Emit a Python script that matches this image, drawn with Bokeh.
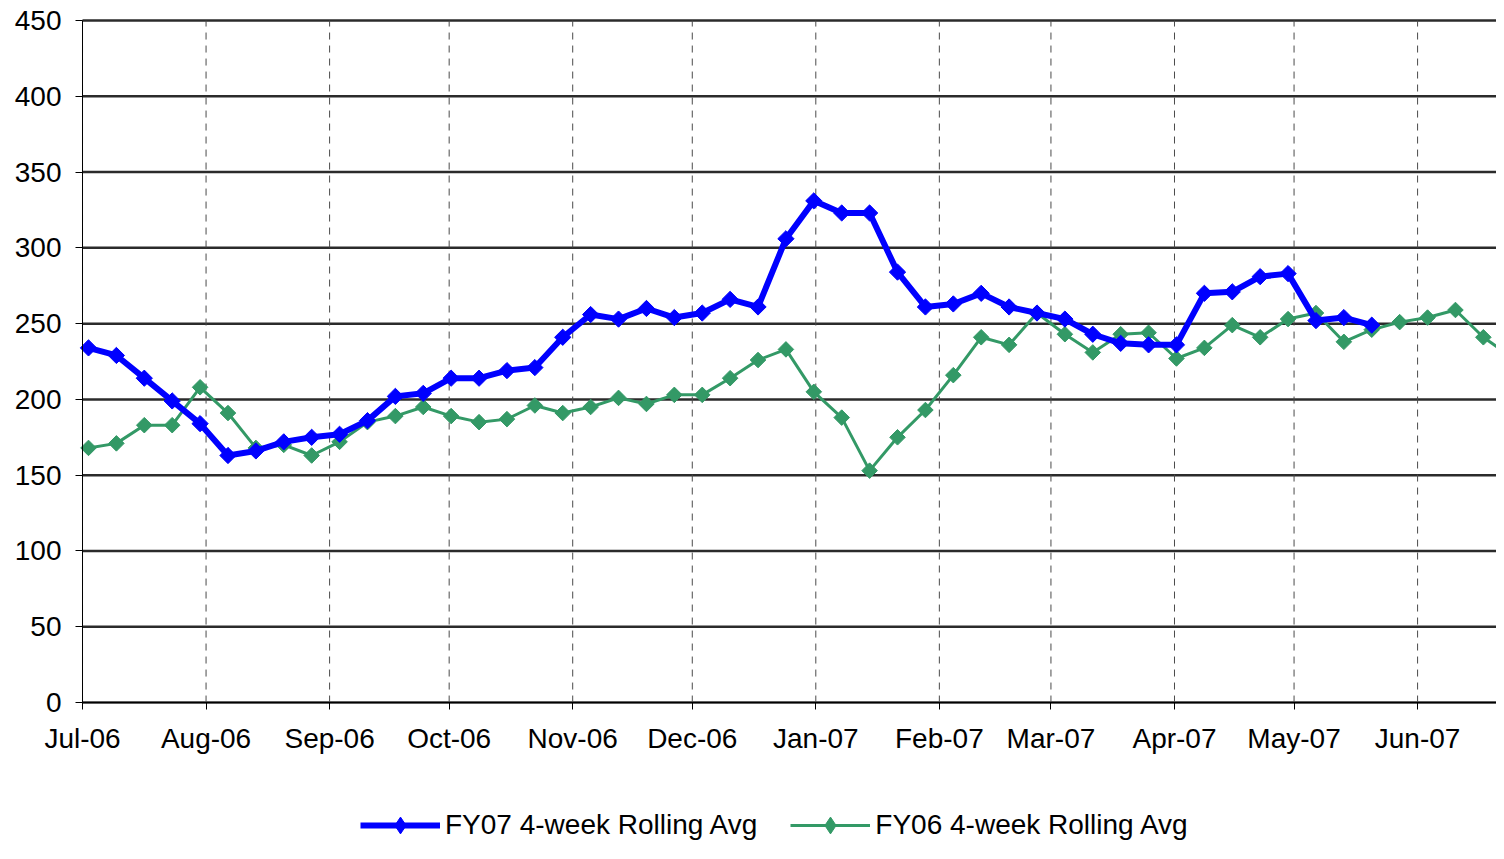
import numpy as np
import pandas as pd
from bokeh.plotting import figure
from bokeh.models import (Range1d, FixedTicker, Legend, LegendItem, ColumnDataSource)
from bokeh.embed import file_html
from bokeh.resources import INLINE

# ---- data ----
fy07 = [234, 229, 214, 199, 184, 163, 166, 172, 175, 177,
        186, 202, 204, 214, 214, 219, 221, 241, 256, 253,
        260, 254, 257, 266, 261, 306, 331, 323, 323, 284,
        261, 263, 270, 261, 257, 253, 243, 237, 236, 236,
        270, 271, 281, 283, 252, 254, 249]
fy06 = [168, 171, 183, 183, 208, 191, 168, 170, 163, 172,
        185, 189, 195, 189, 185, 187, 196, 191, 195, 201,
        197, 203, 203, 214, 226, 233, 205, 188, 153, 175,
        193, 216, 241, 236, 257, 243, 231, 243, 244, 227,
        234, 249, 241, 253, 257, 238, 246, 251, 254, 259,
        241, 228]
first_week = "2006-07-02 12:00"
month_starts = pd.date_range("2006-07-01", periods=12, freq="MS")
month_labels = ["Jul-06", "Aug-06", "Sep-06", "Oct-06", "Nov-06", "Dec-06",
                "Jan-07", "Feb-07", "Mar-07", "Apr-07", "May-07", "Jun-07"]
y_ticks = [0, 50, 100, 150, 200, 250, 300, 350, 400, 450]
series_names = ["FY07 4-week Rolling Avg", "FY06 4-week Rolling Avg"]

dates07 = pd.date_range(first_week, periods=len(fy07), freq="7D")
dates06 = pd.date_range(first_week, periods=len(fy06), freq="7D")

axis_start = pd.Timestamp("2006-07-01")
axis_end = axis_start + pd.Timedelta(days=354.8)
view_start = axis_start - pd.Timedelta(days=20.58)   # room for y labels

FONT = "Liberation Sans"
BLUE = "#0000FF"
GREEN = "#339966"

# The frame fills the whole figure; axes are pinned inside it so that
# the legend (drawn in the frame) can sit at the very bottom.
p = figure(width=1496, height=843, x_axis_type="datetime",
           x_range=Range1d(view_start, axis_end), y_range=Range1d(-93, 463.2),
           output_backend="svg", toolbar_location=None,
           min_border_left=0, min_border_right=0, min_border_top=0,
           min_border_bottom=0)
p.outline_line_color = None
p.background_fill_color = "white"

tick_ms = [float(t.value // 10**6) for t in month_starts]
p.xaxis.ticker = FixedTicker(ticks=tick_ms)
p.xaxis.major_label_overrides = {t: lab for t, lab in zip(tick_ms, month_labels)}
p.xaxis.fixed_location = y_ticks[0]
p.xaxis.bounds = (axis_start, axis_end)
p.yaxis.ticker = FixedTicker(ticks=y_ticks)
p.yaxis.fixed_location = float(axis_start.value // 10**6)
p.yaxis.bounds = (y_ticks[0], y_ticks[-1])

for ax in (p.xaxis[0], p.yaxis[0]):
    ax.axis_line_color = "black"
    ax.axis_line_width = 1
    ax.major_tick_line_color = "black"
    ax.major_tick_in = 0
    ax.major_tick_out = 7
    ax.minor_tick_line_color = None
    ax.major_label_text_font = FONT
    ax.major_label_text_font_size = "28px"
    ax.major_label_text_color = "black"
p.yaxis.major_label_standoff = 14
p.xaxis.major_label_standoff = 13

p.xgrid.grid_line_color = None
p.ygrid.grid_line_color = None

# horizontal gridlines at the value ticks
p.segment(x0=axis_start, y0=y_ticks, x1=axis_end, y1=y_ticks,
          line_color="#2b2b2b", line_width=2.5)
# vertical dashed month gridlines over the value range
p.segment(x0=month_starts, y0=y_ticks[0], x1=month_starts, y1=y_ticks[-1],
          line_color="#4a4a4a", line_width=1, line_dash="7 6")

src07 = ColumnDataSource(dict(x=dates07, y=fy07))
src06 = ColumnDataSource(dict(x=dates06, y=fy06))

l06 = p.line("x", "y", source=src06, line_color=GREEN, line_width=3)
d06 = p.scatter("x", "y", source=src06, marker="diamond", size=10,
                fill_color=GREEN, line_color=GREEN)
p.scatter("x", "y", source=src06, marker="square", angle=np.pi / 4,
          size=11, fill_color=GREEN, line_color=GREEN)
l07 = p.line("x", "y", source=src07, line_color=BLUE, line_width=6)
d07 = p.scatter("x", "y", source=src07, marker="diamond", size=10,
                fill_color=BLUE, line_color=BLUE)
p.scatter("x", "y", source=src07, marker="square", angle=np.pi / 4,
          size=11.5, fill_color=BLUE, line_color=BLUE)

legend = Legend(items=[LegendItem(label=series_names[0], renderers=[l07, d07]),
                       LegendItem(label=series_names[1], renderers=[l06, d06])],
                orientation="horizontal", location=(360, -3),
                padding=0, margin=0, spacing=33, label_standoff=5,
                glyph_width=80, glyph_height=42,
                border_line_color=None, background_fill_alpha=0,
                label_text_font=FONT, label_text_font_size="28px",
                label_text_color="black")
p.add_layout(legend, "center")

open("out.html", "w").write(file_html(p, INLINE))
